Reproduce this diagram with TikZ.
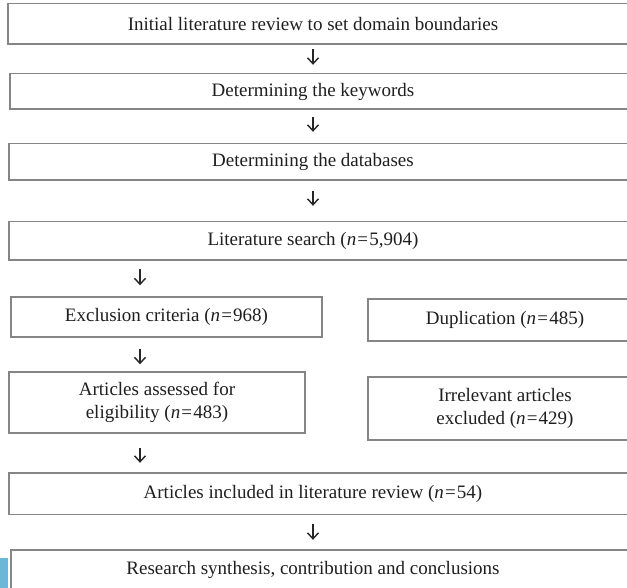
\documentclass[tikz,border=0pt]{standalone}
\usepackage{fontspec}
\setmainfont{Liberation Serif}
\usetikzlibrary{arrows.meta}
\newcommand{\nn}[1]{(\textit{n}\kern1.2pt=\kern1.2pt#1)}
\begin{document}
\begin{tikzpicture}[x=1pt,y=-1pt,
  lbl/.style={font=\fontsize{19}{22.5}\selectfont, text=black!88, align=center, inner sep=0pt},
  wide/.style={lbl, minimum width=610pt},
  framed/.style={draw=black!48, line width=1.4pt},
  boxed/.style={lbl, draw=black!48, line width=1.4pt},
  arr/.style={-{Straight Barb[length=6pt,width=11pt,line width=1.4pt]}, line width=1.4pt, draw=black!85}
]
\useasboundingbox (0,0) rectangle (627,588);
\fill[fill=white] (0,0) rectangle (627,588);
\fill[fill={rgb,255:red,107;green,184;blue,214}] (0,558) rectangle (8,588);

\node[wide, minimum height=40pt] (b1) at (313,24) {Initial literature review to set domain boundaries};
\draw[framed] (b1.north west) rectangle ([xshift=40pt]b1.south east);
\node[wide, minimum height=35pt, minimum width=606pt] (b2) at (313,91.5) {Determining the keywords};
\draw[framed] (b2.north west) rectangle ([xshift=40pt]b2.south east);
\node[wide, minimum height=36pt, minimum width=608pt] (b3) at (313,162) {Determining the databases};
\draw[framed] (b3.north west) rectangle ([xshift=40pt]b3.south east);
\node[wide, minimum height=38pt, minimum width=608pt] (b4) at (313,241) {Literature search \nn{5,904}};
\draw[framed] (b4.north west) rectangle ([xshift=40pt]b4.south east);

\node[boxed, minimum width=311pt, minimum height=40pt] (ex) at (166.5,317) {Exclusion criteria \nn{968}};
\node[boxed, minimum width=274pt, minimum height=42pt] (du) at (505,320) {Duplication \nn{485}};
\node[boxed, minimum width=296pt, minimum height=61pt] (aa) at (157,402.5) {Articles assessed for\\eligibility \nn{483}};
\node[boxed, minimum width=274pt, minimum height=63pt] (ir) at (505,408.5) {Irrelevant articles\\excluded \nn{429}};

\node[wide, minimum height=41pt, minimum width=608pt] (b5) at (313,493.5) {Articles included in literature review \nn{54}};
\draw[framed] (b5.north west) rectangle ([xshift=40pt]b5.south east);
\node[wide, minimum height=40pt, minimum width=604pt] (b6) at (313,570) {Research synthesis, contribution and conclusions};
\draw[framed] (b6.north west) rectangle ([xshift=40pt]b6.south east);

\coordinate (lx) at (140,0);
\draw[arr, shorten <=5pt, shorten >=9pt] (b1) -- (b2);
\draw[arr, shorten <=8pt, shorten >=12pt] (b2) -- (b3);
\draw[arr, shorten <=11pt, shorten >=16pt] (b3) -- (b4);
\draw[arr, shorten <=9pt, shorten >=11pt] (b4.south -| lx) -- (ex.north -| lx);
\draw[arr, shorten <=11pt, shorten >=7pt] (ex.south -| lx) -- (aa.north -| lx);
\draw[arr, shorten <=14pt, shorten >=10pt] (aa.south -| lx) -- (b5.north -| lx);
\draw[arr, shorten <=10pt, shorten >=10pt] (b5) -- (b6);
\end{tikzpicture}
\end{document}
